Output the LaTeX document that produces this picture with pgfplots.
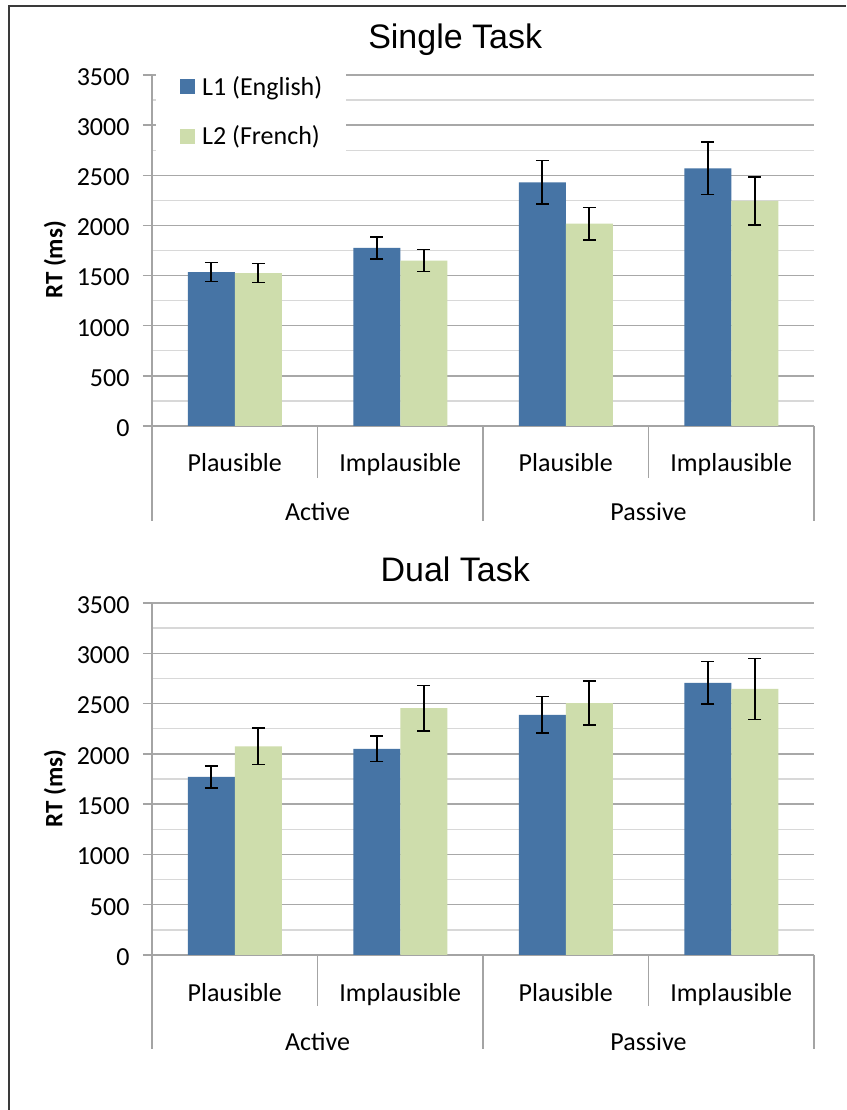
\documentclass[border=0pt]{standalone}
\usepackage{pgfplots}
\pgfplotsset{compat=1.18}
\usepackage{pgfplotstable}
\usepackage{fontspec}
\setmainfont{Carlito}
\newfontfamily\titlefont{Liberation Sans}

\definecolor{lone}{HTML}{4674A5}
\definecolor{ltwo}{HTML}{CEDDAC}
\definecolor{majgrid}{HTML}{A8A8A8}
\definecolor{mingrid}{HTML}{D8D8D8}
\definecolor{axisgray}{HTML}{A4A4A4}
\definecolor{frame}{HTML}{3A3A3A}

% mean RT (ms) and error-bar half widths, per condition
\pgfplotstableread{
x L1 L1err L2 L2err
0 1535 95 1525 95
1 1775 110 1650 110
2 2430 218 2017 163
3 2570 262 2245 238
}\singletask

\pgfplotstableread{
x L1 L1err L2 L2err
0 1770 112 2075 180
1 2050 125 2455 225
2 2388 183 2505 220
3 2705 212 2645 303
}\dualtask

\newcommand\ticksize{\fontsize{26}{30}\selectfont}

\pgfplotsset{
  rtpanel/.style={
    width=662pt, scale only axis,
    xmin=-0.5, xmax=3.5, ymin=0, ymax=3500,
    ybar=0pt, bar width=47pt,
    axis x line*=bottom, axis y line*=left,
    axis line style={axisgray, line width=1.4pt, -},
    ytick={0,500,...,3500},
    minor ytick={250,750,...,3250},
    ymajorgrids, yminorgrids,
    major grid style={majgrid, line width=1.4pt},
    minor grid style={mingrid, line width=1.4pt},
    tick align=outside,
    major tick length=9pt, minor tick length=0pt,
    ytick style={axisgray, line width=1.4pt},
    xtick={0,1,2,3},
    xticklabels={Plausible,Implausible,Plausible,Implausible},
    xtick style={draw=none},
    xticklabel style={anchor=base, yshift=-37pt},
    tick label style={font=\ticksize},
    /pgf/number format/assume math mode=true,
    /pgf/number format/1000 sep={},
    yticklabel style={anchor=east, xshift=-10pt, yshift=-2pt},
    ylabel={RT (ms)},
    ylabel style={font=\fontsize{25}{30}\selectfont\bfseries,
      at={(axis description cs:-0.1465,0.473)}, anchor=center},
    title style={font=\titlefont\fontsize{34}{40}\selectfont, anchor=base},
    clip=false,
    error bars/y dir=both, error bars/y explicit,
    error bars/error bar style={draw=black, line width=1.6pt},
    error bars/error mark options={rotate=90, mark size=6.5pt, line width=1.6pt, draw=black},
  },
}

% category dividers and the Active / Passive group labels under the axis
\newcommand\groupaxis[2]{%
  \draw[axisgray, line width=1.4pt] (axis cs:0.5,0) -- ++(0pt,-#1pt);
  \draw[axisgray, line width=1.4pt] (axis cs:2.5,0) -- ++(0pt,-#1pt);
  \draw[axisgray, line width=1.4pt] (axis cs:-0.5,0) -- ++(0pt,-#2pt);
  \draw[axisgray, line width=1.4pt] (axis cs:1.5,0) -- ++(0pt,-#2pt);
  \draw[axisgray, line width=1.4pt] (axis cs:3.5,0) -- ++(0pt,-#2pt);
  \node[anchor=base, font=\ticksize, yshift=-95pt] at (axis cs:0.5,0) {Active};
  \node[anchor=base, font=\ticksize, yshift=-95pt] at (axis cs:2.5,0) {Passive};
}

\begin{document}
\begin{tikzpicture}[x=1pt,y=1pt]
\useasboundingbox (0,0) rectangle (846,1110);
\fill[white] (0,0) rectangle (846,1110);
\draw[frame, line width=2pt] (9,0) -- (9,1104) -- (846,1104);

\begin{axis}[rtpanel, height=351pt, at={(152pt,684pt)}, anchor=south west,
  title={Single Task},
  title style={at={(axis description cs:0.458,1)}, yshift=20pt},
  legend style={draw=none, fill=white,
    at={(axis description cs:0.006,1.014)}, anchor=north west,
    inner xsep=24pt, inner ysep=6pt, font=\ticksize,
    row sep=29pt, nodes={inner sep=0pt},
    /tikz/every odd column/.append style={column sep=7pt}},
  legend cell align=left]
\addplot[fill=lone, draw=none,
  legend image code/.code={\fill[lone] (0pt,-7.5pt) rectangle (15pt,7.5pt);}]
  table[x=x, y=L1, y error=L1err] {\singletask};
\addlegendentry{L1 (English)}
\addplot[fill=ltwo, draw=none,
  legend image code/.code={\fill[ltwo] (0pt,-7.5pt) rectangle (15pt,7.5pt);}]
  table[x=x, y=L2, y error=L2err] {\singletask};
\addlegendentry{L2 (French)}
\groupaxis{52}{95}
\end{axis}

\begin{axis}[rtpanel, height=352pt, at={(152pt,155pt)}, anchor=south west,
  title={Dual Task},
  title style={at={(axis description cs:0.458,1)}, yshift=15pt}]
\addplot[fill=lone, draw=none] table[x=x, y=L1, y error=L1err] {\dualtask};
\addplot[fill=ltwo, draw=none] table[x=x, y=L2, y error=L2err] {\dualtask};
\groupaxis{51}{94}
\end{axis}
\end{tikzpicture}
\end{document}
